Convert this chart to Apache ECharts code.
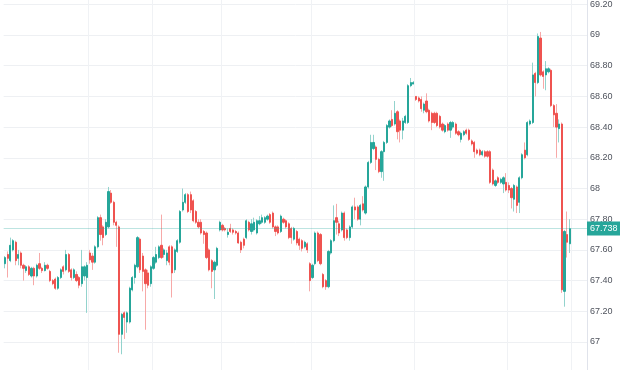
<!DOCTYPE html>
<html><head><meta charset="utf-8">
<script src="https://cdn.jsdelivr.net/npm/echarts@6/dist/echarts.min.js"></script>
<style>html,body{margin:0;padding:0;background:#fff;overflow:hidden;width:620px;height:370px}
#wrap{position:relative;width:620px;height:370px;overflow:hidden}
#c{position:absolute;left:0;top:-27px;width:620px;height:400px}</style>
</head><body><div id="wrap"><div id="c"></div></div>
<script>
// [open, close, low, high]
const candles = [
[67.51,67.55,67.48,67.56],[67.57,67.545,67.42,67.59],[67.53,67.63,67.52,67.68],[67.60,67.66,67.59,67.67],
[67.65,67.53,67.50,67.66],[67.545,67.57,67.50,67.60],[67.58,67.50,67.48,67.59],[67.50,67.48,67.40,67.51],
[67.465,67.49,67.45,67.50],[67.49,67.44,67.43,67.50],[67.43,67.48,67.42,67.49],[67.48,67.43,67.37,67.49],
[67.43,67.50,67.42,67.51],[67.51,67.48,67.47,67.58],[67.48,67.465,67.45,67.49],[67.465,67.50,67.46,67.52],
[67.50,67.48,67.47,67.51],[67.46,67.40,67.39,67.47],[67.40,67.38,67.37,67.41],[67.41,67.35,67.34,67.42],
[67.35,67.42,67.34,67.43],[67.42,67.47,67.41,67.48],[67.49,67.46,67.44,67.50],[67.47,67.57,67.46,67.60],
[67.57,67.46,67.45,67.58],[67.47,67.42,67.40,67.48],[67.42,67.47,67.41,67.48],[67.44,67.40,67.39,67.46],
[67.42,67.37,67.35,67.43],[67.38,67.49,67.36,67.60],
[67.43,67.49,67.40,67.50],[67.42,67.50,67.19,67.52],[67.58,67.535,67.51,67.60],[67.56,67.52,67.47,67.58],
[67.52,67.62,67.51,67.63],[67.62,67.81,67.61,67.82],[67.81,67.70,67.66,67.83],[67.75,67.68,67.63,67.76],
[67.70,67.78,67.69,67.80],[67.75,67.98,67.74,68.01],[67.97,67.91,67.90,67.99],[67.91,67.78,67.76,67.92],
[67.78,67.76,67.62,67.79],[67.75,67.05,66.93,67.76],[67.05,67.18,66.92,67.19],[67.19,67.16,67.02,67.20],
[67.13,67.19,67.06,67.20],[67.13,67.35,67.12,67.36],[67.34,67.42,67.33,67.43],[67.42,67.50,67.38,67.51],
[67.49,67.68,67.48,67.69],[67.67,67.47,67.45,67.68],[67.56,67.46,67.33,67.58],[67.47,67.38,67.08,67.48],
[67.45,67.37,67.35,67.47],[67.38,67.49,67.36,67.50],[67.48,67.55,67.47,67.56],[67.52,67.57,67.51,67.62],
[67.55,67.62,67.54,67.63],[67.63,67.55,67.54,67.83],
[67.57,67.60,67.55,67.61],[67.53,67.58,67.50,67.60],[67.62,67.52,67.50,67.63],[67.62,67.45,67.29,67.63],
[67.47,67.60,67.45,67.61],[67.59,67.66,67.58,67.67],[67.65,67.85,67.64,67.86],[67.86,67.91,67.85,68.00],
[67.91,67.96,67.90,67.97],[67.96,67.85,67.84,67.97],[67.96,67.86,67.84,67.98],[67.92,67.79,67.78,67.93],
[67.85,67.78,67.77,67.86],[67.78,67.75,67.74,67.80],[67.78,67.71,67.70,67.80],[67.72,67.70,67.64,67.73],
[67.71,67.55,67.54,67.72],[67.60,67.47,67.46,67.61],[67.53,67.46,67.35,67.54],[67.47,67.52,67.28,67.53],
[67.50,67.61,67.49,67.62],[67.73,67.78,67.72,67.79],[67.76,67.73,67.72,67.77],[67.74,67.73,67.72,67.75],
[67.70,67.715,67.68,67.74],[67.74,67.72,67.71,67.77],[67.73,67.715,67.70,67.74],[67.72,67.71,67.70,67.73],
[67.71,67.645,67.64,67.72],[67.65,67.60,67.58,67.66],
[67.67,67.63,67.61,67.68],[67.68,67.79,67.67,67.80],[67.78,67.73,67.72,67.79],[67.72,67.77,67.70,67.80],
[67.73,67.78,67.72,67.81],[67.71,67.79,67.70,67.80],[67.77,67.79,67.76,67.82],[67.78,67.81,67.77,67.83],
[67.78,67.81,67.77,67.82],[67.80,67.82,67.79,67.83],[67.83,67.78,67.77,67.84],[67.84,67.75,67.74,67.85],
[67.75,67.72,67.69,67.76],[67.75,67.71,67.70,67.76],[67.72,67.82,67.71,67.83],[67.80,67.78,67.77,67.81],
[67.79,67.75,67.74,67.80],[67.77,67.68,67.67,67.78],[67.74,67.68,67.64,67.75],[67.67,67.74,67.66,67.75],
[67.72,67.645,67.63,67.73],[67.67,67.63,67.60,67.68],[67.66,67.61,67.59,67.67],[67.62,67.65,67.61,67.66],
[67.64,67.60,67.58,67.65],[67.51,67.40,67.33,67.52],[67.42,67.50,67.41,67.51],[67.51,67.71,67.50,67.72],
[67.71,67.53,67.52,67.72],[67.70,67.51,67.50,67.71],[67.44,67.36,67.35,67.45],[67.40,67.36,67.34,67.41],
[67.36,67.59,67.35,67.60],
[67.58,67.66,67.57,67.67],[67.66,67.79,67.65,67.89],[67.81,67.78,67.70,67.90],[67.77,67.71,67.69,67.79],
[67.73,67.84,67.72,67.85],[67.84,67.68,67.66,67.85],[67.73,67.68,67.67,67.74],[67.68,67.75,67.66,67.76],
[67.75,67.88,67.74,67.89],[67.88,67.86,67.80,67.94],[67.88,67.80,67.79,67.89],[67.80,67.89,67.76,67.90],
[67.90,67.86,67.85,67.95],[67.84,68.01,67.83,68.02],[68.01,68.17,68.00,68.18],[68.17,68.30,68.16,68.35],
[68.26,68.30,68.25,68.35],[68.27,68.19,68.12,68.28],[68.19,68.11,68.10,68.20],[68.11,68.24,68.07,68.25],
[68.24,68.30,68.05,68.31],[68.30,68.41,68.29,68.42],[68.40,68.44,68.39,68.45],[68.45,68.41,68.40,68.51],
[68.42,68.49,68.41,68.57],[68.50,68.37,68.32,68.51],[68.44,68.38,68.30,68.45],[68.38,68.44,68.32,68.46],
[68.43,68.47,68.42,68.48],[68.43,68.67,68.42,68.68],[68.67,68.69,68.66,68.72],[68.68,68.69,68.68,68.70],
[68.60,68.58,68.57,68.60],[68.59,68.57,68.56,68.60],[68.58,68.52,68.50,68.60],[68.51,68.55,68.49,68.56],
[68.57,68.50,68.49,68.62],[68.51,68.44,68.43,68.52],[68.49,68.43,68.38,68.50],[68.49,68.43,68.42,68.50],
[68.49,68.41,68.40,68.50],[68.47,68.40,68.39,68.48],[68.42,68.38,68.37,68.43],[68.37,68.41,68.36,68.42],
[68.42,68.38,68.37,68.43],[68.38,68.43,68.33,68.44],[68.40,68.43,68.39,68.44],[68.42,68.36,68.35,68.43],
[68.37,68.35,68.34,68.38],[68.32,68.36,68.30,68.37],[68.35,68.37,68.34,68.38],[68.38,68.36,68.35,68.39],
[68.38,68.32,68.31,68.39],[68.31,68.29,68.28,68.32],[68.30,68.24,68.20,68.31],[68.25,68.23,68.22,68.26],
[68.25,68.22,68.21,68.26],[68.22,68.24,68.21,68.25],[68.24,68.21,68.20,68.25],[68.24,68.21,68.20,68.25],
[68.24,68.04,68.03,68.25],[68.12,68.03,68.02,68.13],[68.02,68.05,68.01,68.06],[68.07,68.04,68.03,68.08],
[68.04,68.06,68.03,68.07],[68.03,68.07,67.97,68.08],[68.04,67.99,67.98,68.10],
[68.02,67.99,67.97,68.04],[68.00,67.94,67.87,68.01],[67.93,68.02,67.85,68.03],[68.01,67.89,67.84,68.02],
[67.91,68.07,67.84,68.08],[68.07,68.22,68.06,68.23],[68.25,68.20,68.19,68.30],[68.22,68.43,68.21,68.44],
[68.42,68.44,68.41,68.45],[68.43,68.74,68.42,68.82],[68.75,68.69,68.60,68.76],[68.69,68.99,68.68,69.01],
[68.98,68.74,68.73,69.02],[68.76,68.73,68.65,68.77],[68.74,68.78,68.64,68.83],[68.76,68.78,68.75,68.79],
[68.77,68.54,68.53,68.78],[68.54,68.48,68.40,68.55],[68.49,68.40,68.20,68.55],[68.39,68.42,68.30,68.45],
[68.42,67.34,67.32,68.43],[67.33,67.72,67.23,67.73],[67.70,67.65,67.55,67.85],[67.64,67.738,67.58,67.80]
];
const lastPrice = 67.738;
const totalSlots = 220;              // bar slots across the plot, including empty right margin
const timeGridIdx = [32, 56, 82, 116, 155, 190, 214];
const yMin = 66.8, yMax = 69.4, yStep = 0.2;

const UP = '#26a69a', DOWN = '#ef5350';
const UP_W = '#93d3cd', DOWN_W = '#f7a9a8';
const FONT = "'Liberation Sans',Arial,sans-serif";

const categories = Array.from({length: totalSlots}, (_, i) => String(i));
const bodies = candles.map(([o, c]) => [o, c, Math.min(o, c), Math.max(o, c)]);

const chart = echarts.init(document.getElementById('c'), null, {renderer: 'canvas'});
chart.setOption({
  animation: false,
  backgroundColor: '#ffffff',
  grid: {left: 3.67, right: 33, top: 0.6, bottom: 0.3, containLabel: false},
  xAxis: {
    type: 'category', data: categories, boundaryGap: true,
    axisLine: {show: false}, axisTick: {show: false}, axisLabel: {show: false},
    splitLine: {show: true, interval: (idx) => timeGridIdx.includes(idx),
      lineStyle: {color: '#f0f2f5', width: 1}}
  },
  yAxis: {
    type: 'value', position: 'right', min: yMin, max: yMax, interval: yStep,
    axisLine: {show: true, lineStyle: {color: '#e0e3eb'}},
    axisTick: {show: false},
    splitLine: {show: true, lineStyle: {color: '#eef0f3', width: 1}},
    axisLabel: {
      show: true, margin: 3, fontSize: 9, color: '#4f535d', fontFamily: FONT,
      showMinLabel: false, showMaxLabel: false,
      formatter: (v) => { const r = Math.round(v * 100) / 100; return Number.isInteger(r) ? String(r) : r.toFixed(2); }
    }
  },
  series: [
    {
      name: 'wick', type: 'candlestick', data: candles, barWidth: 1, silent: true,
      itemStyle: {color: UP_W, color0: DOWN_W, borderColor: UP_W, borderColor0: DOWN_W, borderColorDoji: UP_W, borderWidth: 1}
    },
    {
      name: 'body', type: 'candlestick', data: bodies, barWidth: 1.7, silent: true,
      itemStyle: {color: UP, color0: DOWN, borderColor: UP, borderColor0: DOWN, borderColorDoji: UP, borderWidth: 1},
      markLine: {
        silent: true, symbol: ['none', 'none'], animation: false,
        data: [{yAxis: lastPrice}],
        lineStyle: {color: 'rgba(38,166,154,0.3)', type: 'solid', width: 1},
        label: {
          show: true, position: 'end', distance: 0,
          formatter: () => lastPrice.toFixed(3),
          backgroundColor: UP, color: '#ffffff', fontSize: 9, fontFamily: FONT,
          padding: [3, 4, 2, 3]
        }
      }
    }
  ]
});
</script>
</body></html>
